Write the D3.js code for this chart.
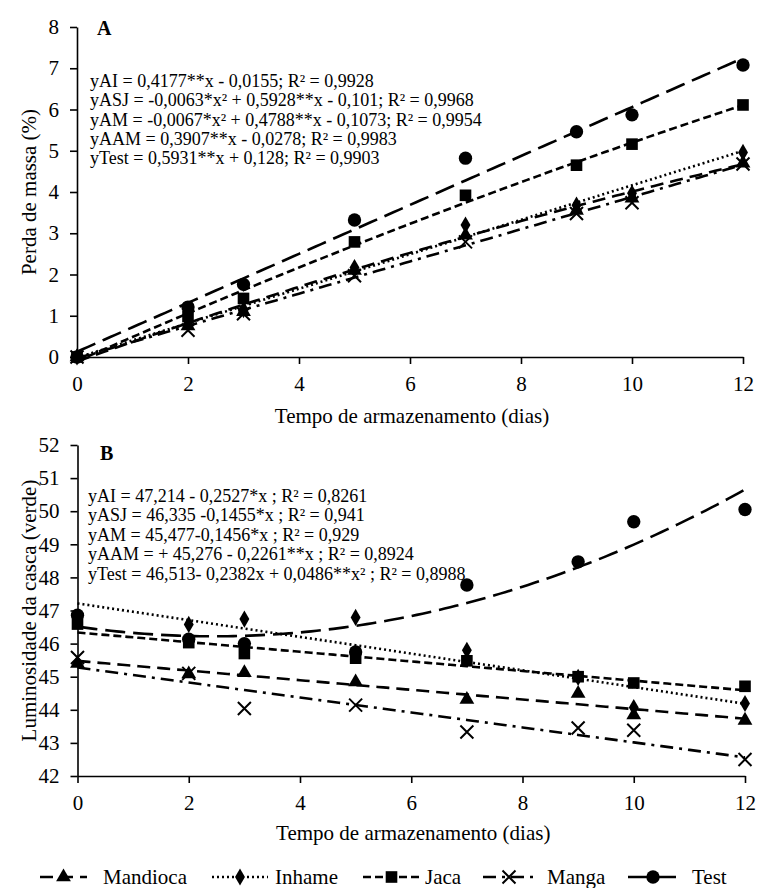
<!DOCTYPE html>
<html><head><meta charset="utf-8">
<script src="https://cdn.jsdelivr.net/npm/d3@7"></script>
<style>
body{margin:0;background:#fff}
svg{display:block}
svg text{font-family:"Liberation Serif","Times New Roman",Times,serif !important;fill:#000}
</style>
</head><body>
<svg id="chart" width="759" height="888" font-family="Liberation Serif, Times New Roman, serif"></svg>
<script>
// ---------- DATA ----------
const days = [0, 2, 3, 5, 7, 9, 10, 12];
const seriesNames = ["Mandioca", "Inhame", "Jaca", "Manga", "Test"];

// Panel A – Perda de massa (%)
const massaMandioca = [0, 0.75, 1.10, 2.10, 2.95, 3.55, 3.85, 4.70];
const massaInhame   = [0, 0.80, 1.15, 2.17, 3.20, 3.68, 3.97, 4.96];
const massaJaca     = [0, 0.98, 1.42, 2.79, 3.92, 4.65, 5.16, 6.11];
const massaManga    = [0, 0.65, 1.05, 1.97, 2.79, 3.48, 3.74, 4.68];
const massaTest     = [0, 1.21, 1.76, 3.32, 4.82, 5.46, 5.87, 7.08];

// regression coefficients [c0, c1, c2] : y = c0 + c1*x + c2*x^2
const fitAMandioca = [-0.1073, 0.4788, -0.0067];
const fitAInhame   = [-0.0155, 0.4177, 0];
const fitAJaca     = [-0.101, 0.5928, -0.0063];
const fitAManga    = [-0.0278, 0.3907, 0];
const fitATest     = [0.128, 0.5931, 0];

// Panel B – Luminosidade da casca (verde)
const lumMandioca = [45.40, 45.08, 45.12, 44.84, 44.31, 44.49, 43.84, 43.68];
const lumInhame   = [46.75, 46.58, 46.74, 46.79, 45.80, 44.98, 44.07, 44.19];
const lumJaca     = [46.59, 46.03, 45.70, 45.56, 45.48, 45.00, 44.81, 44.71];
const lumManga    = [45.58, 45.10, 44.04, 44.14, 43.33, 43.45, 43.38, 42.50];
const lumTest     = [46.86, 46.13, 46.00, 45.75, 47.77, 48.47, 49.68, 50.05];

const fitBMandioca = [45.477, -0.1456, 0];
const fitBInhame   = [47.214, -0.2527, 0];
const fitBJaca     = [46.335, -0.1455, 0];
const fitBManga    = [45.276, -0.2261, 0];
const fitBTest     = [46.513, -0.2382, 0.0486];

const xTicks  = [0, 2, 4, 6, 8, 10, 12];
const yTicksA = [0, 1, 2, 3, 4, 5, 6, 7, 8];
const yTicksB = [42, 43, 44, 45, 46, 47, 48, 49, 50, 51, 52];

const eqA = [
  "yAI = 0,4177**x - 0,0155; R² = 0,9928",
  "yASJ = -0,0063*x² + 0,5928**x - 0,101; R² = 0,9968",
  "yAM = -0,0067*x² + 0,4788**x - 0,1073; R² = 0,9954",
  "yAAM = 0,3907**x - 0,0278; R² = 0,9983",
  "yTest = 0,5931**x + 0,128; R² = 0,9903"
];
const eqB = [
  "yAI = 47,214 - 0,2527*x ; R² = 0,8261",
  "yASJ = 46,335 -0,1455*x ; R² = 0,941",
  "yAM = 45,477-0,1456*x ; R² = 0,929",
  "yAAM = + 45,276 - 0,2261**x ; R² = 0,8924",
  "yTest = 46,513- 0,2382x + 0,0486**x² ; R² = 0,8988"
];
const xTitle = "Tempo de armazenamento (dias)";
const yTitleA = "Perda de massa (%)";
const yTitleB = "Luminosidade da casca (verde)";

// ---------- STYLE ----------
const SERIF = '"Liberation Serif","Times New Roman",Times,serif';
const styles = {
  Mandioca: {dash: "13,7", marker: "triangle"},
  Inhame:   {dash: "2,3",  marker: "diamond"},
  Jaca:     {dash: "8,4",  marker: "square"},
  Manga:    {dash: "13,6,3,6", marker: "x"},
  Test:     {dash: "20,8", marker: "circle"}
};

const svg = d3.select("#chart");
const FONT = 21;

function txt(sel) {
  return sel.style("font-family", SERIF).attr("fill", "#000");
}

function drawMarker(g, type, cx, cy) {
  if (type === "x") {
    const s = 6.5;
    g.append("path")
      .attr("d", `M${cx - s},${cy - s}L${cx + s},${cy + s}M${cx - s},${cy + s}L${cx + s},${cy - s}`)
      .attr("stroke", "#000").attr("stroke-width", 2).attr("fill", "none");
    return;
  }
  const map = {
    triangle: [d3.symbolTriangle, 95],
    diamond: [d3.symbolDiamond, 85],
    square: [d3.symbolSquare, 135],
    circle: [d3.symbolCircle, 140]
  };
  const [sym, size] = map[type];
  g.append("path")
    .attr("d", d3.symbol().type(sym).size(size)())
    .attr("transform", `translate(${cx},${cy})`)
    .attr("fill", "#000");
}

function panel(cfg) {
  const x = d3.scaleLinear().domain([0, 12]).range(cfg.xr);
  const y = d3.scaleLinear().domain(cfg.yd).range(cfg.yr);
  const g = svg.append("g");

  // axes
  const ax = g.append("g").attr("transform", `translate(0,${cfg.yr[0]})`)
    .call(d3.axisBottom(x).tickValues(xTicks).tickSize(7).tickSizeOuter(0).tickPadding(12).tickFormat(d3.format("d")));
  const ay = g.append("g").attr("transform", `translate(${cfg.xr[0]},0)`)
    .call(d3.axisLeft(y).tickValues(cfg.yTicks).tickSize(7).tickSizeOuter(0).tickPadding(11).tickFormat(d3.format("d")));
  [ax, ay].forEach(a => {
    a.attr("font-family", null).attr("font-size", null);
    a.select(".domain").attr("stroke", "#000").attr("stroke-width", 1.6);
    a.selectAll(".tick line").attr("stroke", "#000").attr("stroke-width", 1.6);
    txt(a.selectAll(".tick text")).attr("font-size", FONT);
  });

  // fit lines
  const xs = d3.range(0, 12.001, 0.1);
  cfg.series.forEach(s => {
    const c = s.fit;
    const line = d3.line().x(d => x(d)).y(d => y(c[0] + c[1] * d + c[2] * d * d));
    g.append("path").datum(xs).attr("d", line)
      .attr("fill", "none").attr("stroke", "#000").attr("stroke-width", 2.6)
      .attr("stroke-dasharray", styles[s.name].dash);
  });

  // markers
  cfg.series.forEach(s => {
    const mg = g.append("g");
    s.values.forEach((v, i) => drawMarker(mg, styles[s.name].marker, x(days[i]), y(v)));
  });

  // panel letter
  txt(g.append("text")).attr("x", cfg.letterPos[0]).attr("y", cfg.letterPos[1])
    .attr("font-size", 20).attr("font-weight", "bold").text(cfg.letter);

  // equations
  cfg.eq.forEach((t, i) => {
    txt(g.append("text")).attr("x", cfg.eqPos[0]).attr("y", cfg.eqPos[1] + i * cfg.eqStep)
      .attr("font-size", 18).text(t);
  });

  // axis titles
  txt(g.append("text")).attr("x", (cfg.xr[0] + cfg.xr[1]) / 2 + 2).attr("y", cfg.xTitleY)
    .attr("text-anchor", "middle").attr("font-size", FONT).text(xTitle);
  const yc = (cfg.yr[0] + cfg.yr[1]) / 2;
  txt(g.append("text")).attr("transform", `translate(${cfg.yTitleX},${yc}) rotate(-90)`)
    .attr("text-anchor", "middle").attr("font-size", FONT).text(cfg.yTitle);
}

panel({
  xr: [77, 743], yr: [357, 27], yd: [0, 8], yTicks: yTicksA,
  series: [
    {name: "Mandioca", values: massaMandioca, fit: fitAMandioca},
    {name: "Inhame", values: massaInhame, fit: fitAInhame},
    {name: "Jaca", values: massaJaca, fit: fitAJaca},
    {name: "Manga", values: massaManga, fit: fitAManga},
    {name: "Test", values: massaTest, fit: fitATest}
  ],
  letter: "A", letterPos: [97, 35],
  eq: eqA, eqPos: [90, 87], eqStep: 19.3,
  xTitleY: 423, yTitle: yTitleA, yTitleX: 36
});

panel({
  xr: [77.5, 745], yr: [776, 445], yd: [42, 52], yTicks: yTicksB,
  series: [
    {name: "Mandioca", values: lumMandioca, fit: fitBMandioca},
    {name: "Inhame", values: lumInhame, fit: fitBInhame},
    {name: "Jaca", values: lumJaca, fit: fitBJaca},
    {name: "Manga", values: lumManga, fit: fitBManga},
    {name: "Test", values: lumTest, fit: fitBTest}
  ],
  letter: "B", letterPos: [100, 460],
  eq: eqB, eqPos: [88, 502], eqStep: 19.4,
  xTitleY: 840, yTitle: yTitleB, yTitleX: 36
});

// ---------- LEGEND ----------
const legendX = [[40, 87, 103], [212, 268, 275], [363, 420, 425], [483, 535, 547], [628, 678, 692]];
const legY = 877;
const lg = svg.append("g");
seriesNames.forEach((n, i) => {
  const [a, b, t] = legendX[i];
  lg.append("line").attr("x1", a).attr("x2", b).attr("y1", legY).attr("y2", legY)
    .attr("stroke", "#000").attr("stroke-width", 2.6).attr("stroke-dasharray", styles[n].dash);
  drawMarker(lg, styles[n].marker, (a + b) / 2, legY);
  txt(lg.append("text")).attr("x", t).attr("y", legY + 7).attr("font-size", FONT).text(n);
});
</script>
</body></html>
